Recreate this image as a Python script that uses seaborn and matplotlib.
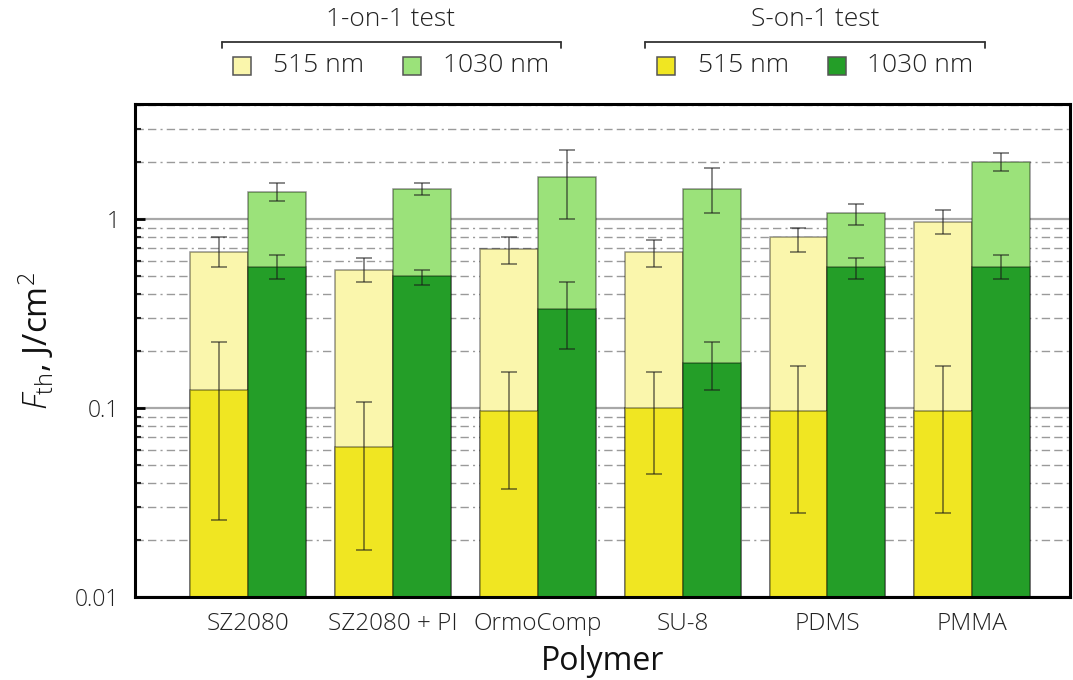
import numpy as np
import pandas as pd
import matplotlib
matplotlib.use("Agg")
import matplotlib.pyplot as plt
import seaborn as sns
from matplotlib.patches import Rectangle
from matplotlib.lines import Line2D
from matplotlib.ticker import FixedLocator, FixedFormatter, NullFormatter

# ---------------- data ----------------
polymers = ["SZ2080", "SZ2080 + PI", "OrmoComp", "SU-8", "PDMS", "PMMA"]
wavelengths = ["515 nm", "1030 nm"]

one_515 = [0.666, 0.537, 0.694, 0.668, 0.803, 0.964]
one_515_lo = [0.557, 0.462, 0.577, 0.557, 0.668, 0.833]
one_515_hi = [0.803, 0.624, 0.803, 0.777, 0.896, 1.116]
one_1030 = [1.39, 1.442, 1.67, 1.442, 1.076, 2.005]
one_1030_lo = [1.246, 1.34, 1.0, 1.076, 0.929, 1.80]
one_1030_hi = [1.55, 1.55, 2.32, 1.86, 1.205, 2.24]

s_515 = [0.1246, 0.0621, 0.0964, 0.0996, 0.0964, 0.0964]
s_515_lo = [0.0257, 0.0178, 0.0371, 0.0445, 0.0277, 0.0277]
s_515_hi = [0.224, 0.107, 0.1546, 0.1546, 0.166, 0.166]
s_1030 = [0.557, 0.499, 0.333, 0.173, 0.557, 0.557]
s_1030_lo = [0.481, 0.447, 0.206, 0.1246, 0.481, 0.481]
s_1030_hi = [0.645, 0.539, 0.462, 0.224, 0.624, 0.645]

y_ticks = [0.01, 0.1, 1]
y_ticklabels = ["0.01", "0.1", "1"]

c_one_515 = "#FAF6AC"
c_one_1030 = "#9BE27A"
c_s_515 = "#F0E622"
c_s_1030 = "#249E28"

tests = [
    ("1-on-1 test", [one_515, one_1030], [one_515_lo, one_1030_lo], [one_515_hi, one_1030_hi],
     [c_one_515, c_one_1030]),
    ("S-on-1 test", [s_515, s_1030], [s_515_lo, s_1030_lo], [s_515_hi, s_1030_hi],
     [c_s_515, c_s_1030]),
]

# ---------------- figure ----------------
sns.set_theme(style="white")
plt.rcParams["font.family"] = ["Open Sans", "DejaVu Sans"]
plt.rcParams["font.weight"] = "light"
plt.rcParams["mathtext.fontset"] = "custom"
plt.rcParams["mathtext.rm"] = "Open Sans:light"
plt.rcParams["mathtext.it"] = "Open Sans:italic:light"

W, H = 1073, 680
fig = plt.figure(figsize=(W / 100, H / 100), dpi=100)
ax = fig.add_axes([135 / W, 1 - 597 / H, (1070 - 135) / W, (597 - 104) / H])
ax.set_yscale("log")

for title, vals, los, his, pal in tests:
    rows = []
    for wi, wl in enumerate(wavelengths):
        for pi, p in enumerate(polymers):
            rows.append({"polymer": p, "wavelength": wl, "value": vals[wi][pi]})
    df = pd.DataFrame(rows)
    n0 = len(ax.containers)
    sns.barplot(data=df, x="polymer", y="value", hue="wavelength",
                order=polymers, hue_order=wavelengths, palette=pal, saturation=1,
                errorbar=None, width=0.8, gap=0, legend=False,
                edgecolor=(0, 0, 0, 0.42), linewidth=1.1, ax=ax)
    for wi, cont in enumerate(ax.containers[n0:]):
        xs = [b.get_x() + b.get_width() / 2 for b in cont]
        ys = np.array(vals[wi])
        lo = np.array(los[wi])
        hi = np.array(his[wi])
        ax.errorbar(xs, ys, yerr=[ys - lo, hi - ys], fmt="none",
                    ecolor=(0.1, 0.1, 0.1, 0.65), elinewidth=1.1,
                    capsize=6, capthick=1.1, zorder=3)

ax.set_ylim(0.01, 4.06)
ax.set_xlim(-0.782, 5.675)

ax.yaxis.set_major_locator(FixedLocator(y_ticks))
ax.yaxis.set_major_formatter(FixedFormatter(y_ticklabels))
minor = [m * d for d in [0.01, 0.1, 1] for m in range(2, 10)]
ax.yaxis.set_minor_locator(FixedLocator(minor))
ax.yaxis.set_minor_formatter(NullFormatter())

ax.set_axisbelow(True)
ax.yaxis.grid(True, which="major", color="#a8a8a8", linewidth=1.6, linestyle="-")
ax.yaxis.grid(True, which="minor", color="#9a9a9a", linewidth=1.0,
              linestyle=(0, (6, 3, 6, 3, 1.5, 3)))
ax.xaxis.grid(False)

for s in ax.spines.values():
    s.set_visible(True)
    s.set_color("black")
    s.set_linewidth(2.2)

ax.tick_params(axis="y", which="major", direction="in", length=7, width=2,
               left=True, right=False, labelsize=16.5, pad=11, colors="black",
               labelcolor="#222222")
ax.tick_params(axis="y", which="minor", direction="in", length=4, width=1.5,
               left=True, right=False)
ax.tick_params(axis="x", which="both", bottom=False, top=False, labelsize=17.5,
               pad=5, labelcolor="#222222")

ax.set_xlabel("Polymer", fontsize=23, color="#111111")
ax.xaxis.label.set_va("center")
ax.xaxis.set_label_coords(0.5, (597 - 661) / (597 - 104))
ax.set_ylabel(r"$F_{\mathrm{th}}$, J/cm$^{2}$", fontsize=24, color="#111111")
ax.yaxis.label.set_va("center")
ax.yaxis.set_label_coords((36 - 135) / (1070 - 135), (597 - 341) / (597 - 104))

# ---------------- grouped legend (figure pixels) ----------------
def fx(x):
    return x / W

def fy(y):
    return 1 - y / H

legend_groups = [
    ("1-on-1 test", 391, 222, 561, [(233, c_one_515, 273), (403, c_one_1030, 443)]),
    ("S-on-1 test", 815, 645, 985, [(657, c_s_515, 698), (828, c_s_1030, 867)]),
]
for title, cx, x0, x1, entries in legend_groups:
    fig.text(fx(cx), fy(20), title, ha="center", va="center", fontsize=19, color="#222222")
    fig.add_artist(Line2D([fx(x0), fx(x1)], [fy(42), fy(42)], color="#333333", lw=1.3,
                          transform=fig.transFigure))
    for xe in (x0, x1):
        fig.add_artist(Line2D([fx(xe), fx(xe)], [fy(42), fy(48)], color="#333333", lw=1.3,
                              transform=fig.transFigure))
    for (sx, col, tx), wl in zip(entries, wavelengths):
        fig.add_artist(Rectangle((fx(sx), fy(75)), 18 / W, 18 / H, facecolor=col,
                                 edgecolor="#555555", lw=1.1, transform=fig.transFigure))
        fig.text(fx(tx), fy(66), wl, ha="left", va="center", fontsize=19, color="#222222")

fig.savefig("out.png", dpi=100)
